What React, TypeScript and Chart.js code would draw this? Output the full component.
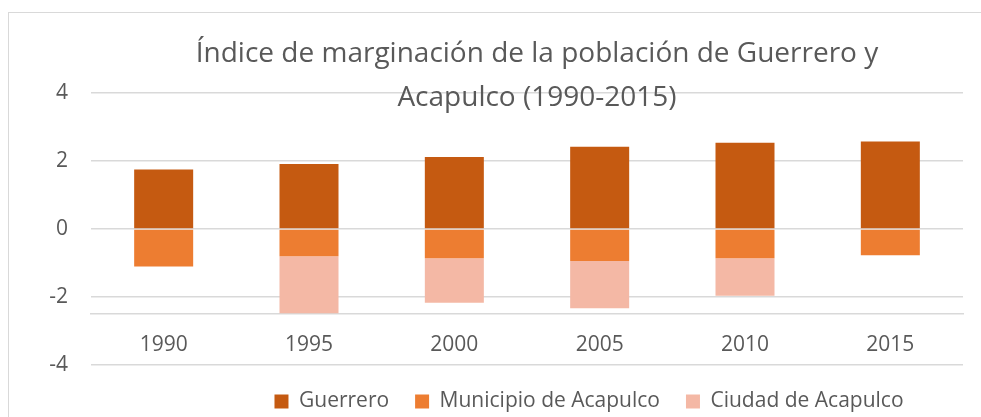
import React, { useEffect, useRef } from 'react';
import { Chart, registerables } from 'chart.js';

Chart.register(...registerables);

const categories = ['1990', '1995', '2000', '2005', '2010', '2015'];
const guerrero = [1.75, 1.91, 2.12, 2.42, 2.54, 2.57];
const municipioAcapulco = [-1.1, -0.8, -0.86, -0.94, -0.86, -0.77];
const ciudadAcapulco = [null, -1.68, -1.31, -1.39, -1.1, null];
const yTicks = [-4, -2, 0, 2, 4];
const titleLines = ['Índice de marginación de la población de Guerrero y', 'Acapulco (1990-2015)'];
const seriesNames = ['Guerrero', 'Municipio de Acapulco', 'Ciudad de Acapulco'];

const TEXT = '#595959';
const GRID = '#d9d9d9';
const FONT = "'Open Sans', sans-serif";

// centers the title and legend blocks where the reference frame places them
const centerPlugin = {
  id: 'centerBlocks',
  afterLayout(chart: any) {
    const place = (box: any, center: number) => {
      if (!box) return;
      const w = box.right - box.left;
      box.left = center - w / 2;
      box.right = center + w / 2;
    };
    place(chart.titleBlock, 537);
    place(chart.legend, 589);
  },
};

export default function App() {
  const ref = useRef<HTMLCanvasElement>(null);

  useEffect(() => {
    if (!ref.current) return;
    const chart = new Chart(ref.current, {
      type: 'bar',
      data: {
        labels: categories,
        datasets: [
          { label: seriesNames[0], data: guerrero, backgroundColor: '#C55A11' },
          { label: seriesNames[1], data: municipioAcapulco, backgroundColor: '#ED7D31' },
          { label: seriesNames[2], data: ciudadAcapulco as any, backgroundColor: '#F4B8A5' },
        ].map((d) => ({
          ...d,
          borderWidth: 0,
          barPercentage: 0.406,
          categoryPercentage: 1,
        })),
      },
      options: {
        responsive: false,
        animation: false,
        devicePixelRatio: 1,
        layout: { padding: { left: 49, right: 18, top: 0, bottom: -5 } },
        plugins: {
          title: {
            display: true,
            text: titleLines,
            color: TEXT,
            font: { family: FONT, size: 28, weight: 'normal', lineHeight: 44 / 28 },
            padding: { top: 32, bottom: -27 },
          },
          legend: {
            position: 'bottom',
            labels: {
              color: TEXT,
              font: { family: FONT, size: 21 },
              boxWidth: 14,
              boxHeight: 14,
              padding: 26,
            },
          },
          tooltip: { enabled: false },
        },
        scales: {
          x: {
            stacked: true,
            position: { y: -2.5 } as any,
            grid: { display: true, color: 'transparent', drawTicks: false },
            border: { display: true, color: GRID, width: 1.5 },
            ticks: { color: TEXT, font: { family: FONT, size: 21 }, padding: 18, maxRotation: 0 },
          },
          y: {
            stacked: true,
            min: -4,
            max: 4,
            afterBuildTicks: (s: any) => {
              s.ticks = yTicks.map((v) => ({ value: v }));
            },
            afterFit: (s: any) => {
              s.width = 42;
            },
            grid: { color: GRID, lineWidth: 1.5, drawTicks: false },
            border: { display: false },
            ticks: { color: TEXT, font: { family: FONT, size: 21 }, padding: 23 },
          },
        },
      },
      plugins: [centerPlugin],
    });
    return () => chart.destroy();
  }, []);

  return (
    <div
      style={{
        position: 'fixed',
        left: 0,
        top: 0,
        width: 981,
        height: 417,
        overflow: 'hidden',
        background: '#ffffff',
      }}
    >
      <div
        style={{
          position: 'absolute',
          left: 8,
          top: 12,
          width: 1200,
          height: 600,
          border: '1px solid #d9d9d9',
        }}
      />
      <canvas
        ref={ref}
        width={981}
        height={417}
        style={{ position: 'absolute', left: 0, top: 0, width: 981, height: 417 }}
      />
    </div>
  );
}
